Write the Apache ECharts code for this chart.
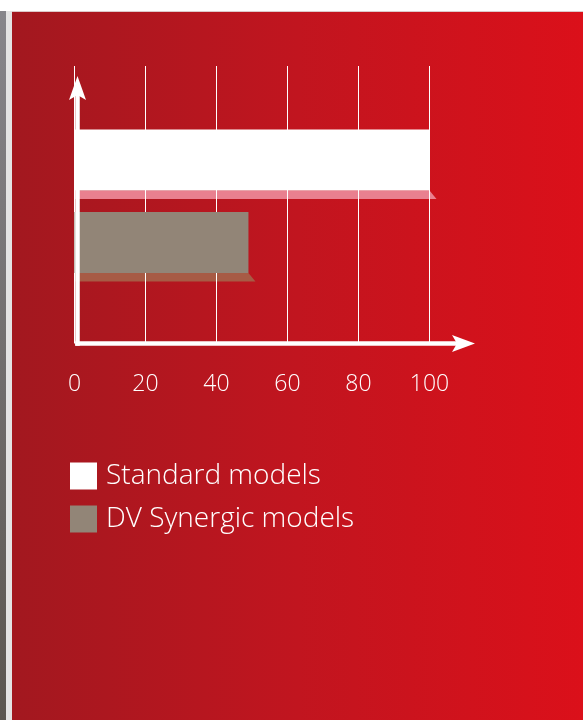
<!DOCTYPE html>
<html><head><meta charset="utf-8">
<script src="https://cdn.jsdelivr.net/npm/echarts@6/dist/echarts.min.js"></script>
<style>
html,body{margin:0;padding:0;background:#fff;}
#page{position:relative;width:583px;height:720px;overflow:hidden;background:#fff;}
#s1{position:absolute;left:0;top:11px;width:6px;height:709px;background:linear-gradient(#87868b,#5b5650);}
#s2{position:absolute;left:6px;top:11px;width:6px;height:709px;background:#e4e4e4;}
#line{position:absolute;left:12px;top:11px;width:571px;height:1px;background:#dcc9c9;}
#red{position:absolute;left:12px;top:12px;width:571px;height:708px;background:linear-gradient(90deg,#a2181f,#c1151f 50%,#db101a);}
#chart{position:absolute;left:0;top:0;width:583px;height:720px;}
</style></head>
<body><div id="page"><div id="s1"></div><div id="s2"></div><div id="line"></div><div id="red"></div><div id="chart"></div></div>
<script>
const categories = ['Standard models', 'DV Synergic models'];
const values = [100, 49];
const barColors = ['#ffffff', '#928577'];
const shadowColors = ['#e9808f', '#a75b45'];
const xTicks = [0, 20, 40, 60, 80, 100];

const FONT = '"Open Sans"';
const chart = echarts.init(document.getElementById('chart'), null, {renderer: 'canvas'});

function geom(api) {
  const v = api.value(0), c = api.value(1);
  const p0 = api.coord([0, c]);
  const p1 = api.coord([v, c]);
  const band = api.size([0, 1])[1];
  const barH = band * 0.74, shH = band * 0.105;
  const top = p0[1] - (barH + shH) / 2;
  return {x0: p0[0], x1: p1[0], top, barH, shH};
}
function renderBar(params, api) {
  const g = geom(api);
  return {type: 'rect', shape: {x: g.x0, y: g.top, width: g.x1 - g.x0, height: g.barH}, style: {fill: api.visual('color')}};
}
function renderShadow(params, api) {
  const g = geom(api);
  const b = g.top + g.barH;
  return {type: 'polygon', shape: {points: [[g.x0, b], [g.x1, b], [g.x1 + 7, b + g.shH], [g.x0, b + g.shH]]},
    style: {fill: shadowColors[params.dataIndex]}};
}

const series = categories.map((name, i) => ({
  name, type: 'custom', xAxisIndex: 1, yAxisIndex: 1,
  itemStyle: {color: barColors[i]},
  renderItem: renderBar, encode: {x: 0, y: 1},
  data: [[values[i], i]], z: 3
}));
series.push({
  type: 'custom', xAxisIndex: 1, yAxisIndex: 1, renderItem: renderShadow, encode: {x: 0, y: 1},
  data: values.map((v, i) => [v, i]), z: -1, silent: true
});

chart.setOption({
  animation: false,
  backgroundColor: 'transparent',
  grid: [
    {left: 74.5, right: 153.5, top: 66, bottom: 376.5},
    {left: 74.5, right: 153.5, top: 123, height: 165}
  ],
  xAxis: [
    {gridIndex: 0, type: 'value', min: xTicks[0], max: xTicks[xTicks.length - 1], interval: xTicks[1] - xTicks[0],
      axisLine: {show: false}, axisTick: {show: false},
      splitLine: {show: true, lineStyle: {color: '#ffffff', width: 1}},
      axisLabel: {color: '#ffffff', fontSize: 23, fontFamily: FONT, fontWeight: 300, margin: 29}},
    {gridIndex: 1, type: 'value', min: 0, max: 100, show: false, splitLine: {show: false}}
  ],
  yAxis: [
    {gridIndex: 0, type: 'value', min: 0, max: 1, show: false, splitLine: {show: false}},
    {gridIndex: 1, type: 'category', data: categories, inverse: true, show: false}
  ],
  legend: {
    data: categories, orient: 'vertical', left: 65, top: 457, icon: 'rect',
    itemWidth: 27, itemHeight: 27, itemGap: 15,
    textStyle: {color: '#ffffff', fontSize: 28, fontFamily: FONT, fontWeight: 300, padding: [5, 0, 0, 4]},
    selectedMode: false
  },
  series
});

// axis arrows, positioned from the chart's own scales
const o = chart.convertToPixel({gridIndex: 0}, [0, 0]);
const topY = chart.convertToPixel({gridIndex: 0}, [0, 1])[1];
const x100 = chart.convertToPixel({gridIndex: 0}, [100, 0])[0];
const ax = o[0] + 3, ty = topY + 10, tx = x100 + 45.5, ay = o[1];
chart.setOption({
  graphic: [
    {type: 'rect', z: 100, shape: {x: ax - 2.25, y: ty + 18, width: 4.5, height: ay + 2.25 - ty - 18}, style: {fill: '#fff'}},
    {type: 'polygon', z: 100, shape: {points: [[ax, ty], [ax + 8.5, ty + 24], [ax, ty + 19], [ax - 8.5, ty + 24]]}, style: {fill: '#fff'}},
    {type: 'rect', z: 100, shape: {x: ax - 2.25, y: ay - 2.25, width: tx - 18 - ax + 2.25, height: 4.5}, style: {fill: '#fff'}},
    {type: 'polygon', z: 100, shape: {points: [[tx, ay], [tx - 23, ay - 8.5], [tx - 18, ay], [tx - 23, ay + 8.5]]}, style: {fill: '#fff'}}
  ]
});
</script></body></html>
